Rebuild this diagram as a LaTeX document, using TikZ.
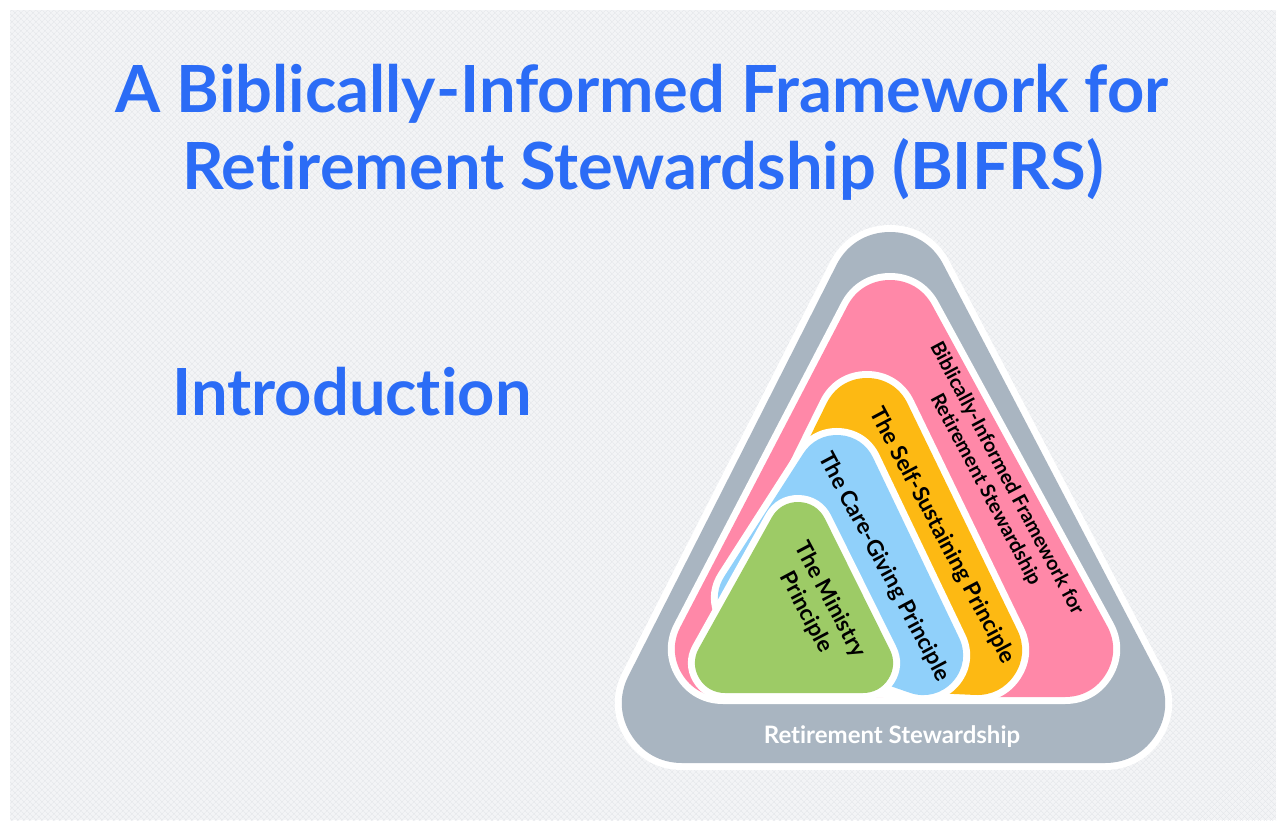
\documentclass[tikz,border=0pt]{standalone}
\usepackage{fontspec}
\setmainfont{Lato}[Ligatures=NoCommon]
\usetikzlibrary{patterns.meta}
\definecolor{azul}{HTML}{2B6CF6}
\definecolor{fondo}{HTML}{F3F4F6}
\definecolor{trama}{HTML}{E3E5E9}
\definecolor{gris}{HTML}{A9B5C1}
\definecolor{rosa}{HTML}{FF88A8}
\definecolor{naranja}{HTML}{FDB913}
\definecolor{celeste}{HTML}{90D0FA}
\definecolor{verde}{HTML}{9DCB66}
\newcommand{\capa}[5]{
	\draw [white, line width=#2pt+14pt, line join=round] (#3) -- (#4) -- (#5) -- cycle;
	\filldraw [fill=#1, draw=#1, line width=#2pt, line join=round] (#3) -- (#4) -- (#5) -- cycle;
	}

\begin{document}
\begin{tikzpicture}[x=1pt,y=-1pt,
	titular/.style={anchor=base, text=azul, inner sep=0pt, font=\fontsize{65}{65}\selectfont\bfseries},
	etiqueta/.style={rotate=-62, inner sep=0pt, align=center, font=\fontsize{22.5}{27}\selectfont\bfseries}]
	\useasboundingbox (0,0) rectangle (1286,830);
	\fill [fondo] (10,10) rectangle (1276,820);
	\fill [pattern={Lines[angle=45,distance=4pt,line width=0.5pt]}, pattern color=trama] (10,10) rectangle (1276,820);
	\fill [pattern={Lines[angle=-45,distance=4pt,line width=0.5pt]}, pattern color=trama] (10,10) rectangle (1276,820);
	\node (titulo1) [titular] at (642,112) {A Biblically-Informed Framework for};
	\node (titulo2) [titular] at (643,189) {Retirement Stewardship (BIFRS)};
	\node (intro) [titular, anchor=base west] at (172,415) {Introduction};
	% capas del triangulo
	\capa{gris}{120}{890,292}{682,703}{1105,703}
	\capa{rosa}{96}{890,328}{723,649}{1065,649}
	\capa{naranja}{90}{867,423}{760,640}{977,650}
	\capa{celeste}{80}{837,475}{758,598}{923,655}
	\capa{verde}{60}{798,532}{725,663}{863,663}
	\node (base) [text=white, inner sep=0pt, font=\fontsize{24}{24}\selectfont\bfseries] at (892,737) {Retirement Stewardship};
	\node (marco) [etiqueta, font=\fontsize{20}{24}\selectfont\bfseries] at (996,484) {Biblically-Informed Framework for\\Retirement Stewardship};
	\node (propio) [etiqueta] at (942,536) {The Self-Sustaining Principle};
	\node (cuidado) [etiqueta] at (884,567) {The Care-Giving Principle};
	\node (ministerio) [etiqueta] at (818,606) {The Ministry\\Principle};
\end{tikzpicture}
\end{document}
